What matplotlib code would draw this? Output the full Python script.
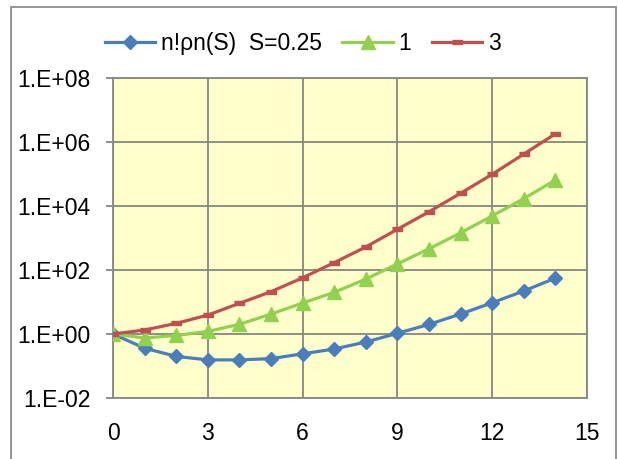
import matplotlib
matplotlib.use('Agg')
import matplotlib.pyplot as plt
from matplotlib.patches import Rectangle

# values (log scale)
n = list(range(15))
s025 = [1.0, 0.36, 0.2, 0.155, 0.155, 0.17, 0.24, 0.34, 0.56, 1.05, 2.0, 4.2, 9.5, 22, 56]
s1 = [1.0, 0.75, 0.9, 1.2, 2.0, 4.2, 9.3, 20, 52, 155, 460, 1450, 4900, 17000, 65000]
s3 = [1.0, 1.33, 2.15, 3.9, 9.1, 21, 57, 170, 525, 1870, 6600, 25000, 98000, 4.2e5, 1.8e6]

labels = ['n!\u03c1n(S)  S=0.25', '1', '3']
yticks = [1e-2, 1e0, 1e2, 1e4, 1e6, 1e8]
ytick_labels = ['1.E-02', '1.E+00', '1.E+02', '1.E+04', '1.E+06', '1.E+08']
xticks = [0, 3, 6, 9, 12, 15]

plt.rcParams['font.family'] = ['Liberation Sans', 'DejaVu Sans']

fig = plt.figure(figsize=(6.18, 4.59), dpi=100)
ax = fig.add_axes([113 / 618, 61 / 459, 474 / 618, 320 / 459])
ax.set_facecolor('#FFFFCC')

blue, green, red = '#4A7EBB', '#92D050', '#C0504D'
rect = [(-1, -0.5), (1, -0.5), (1, 0.5), (-1, 0.5)]

ax.plot(n, s025, color=blue, lw=2.3, marker='D', ms=7, label=labels[0], zorder=3)
ax.plot(n, s1, color=green, lw=2.3, marker='^', ms=10, label=labels[1], zorder=3)
ax.plot(n, s3, color=red, lw=2.3, marker=rect, ms=7, label=labels[2], zorder=3)

ax.set_yscale('log')
ax.set_ylim(1e-2, 1e8)
ax.set_xlim(0, 15)
ax.set_yticks(yticks)
ax.set_yticklabels(ytick_labels)
ax.minorticks_off()
ax.set_xticks(xticks)
ax.set_xticklabels([str(x) for x in xticks])

ax.grid(True, color='#868686', lw=1.3)
ax.set_axisbelow(True)
for sp in ax.spines.values():
    sp.set_color('#868686')
    sp.set_linewidth(1.3)

ax.tick_params(axis='y', length=5, width=1.3, color='#868686', pad=11, labelsize=16.5)
ax.tick_params(axis='x', length=0, pad=17, labelsize=16.5)

fig.legend(loc='center', bbox_to_anchor=(0.49, 0.906), ncol=3, frameon=False,
           fontsize=16.5, handlelength=2.2, handletextpad=0.25, columnspacing=0.9)

# outer chart border
fig.add_artist(Rectangle((11 / 618, -0.05), 605 / 618, 1.05 - 7 / 459,
                         transform=fig.transFigure, fill=False,
                         edgecolor='#8C8C8C', lw=1.3, clip_on=False))

fig.savefig('out.png', dpi=100)
